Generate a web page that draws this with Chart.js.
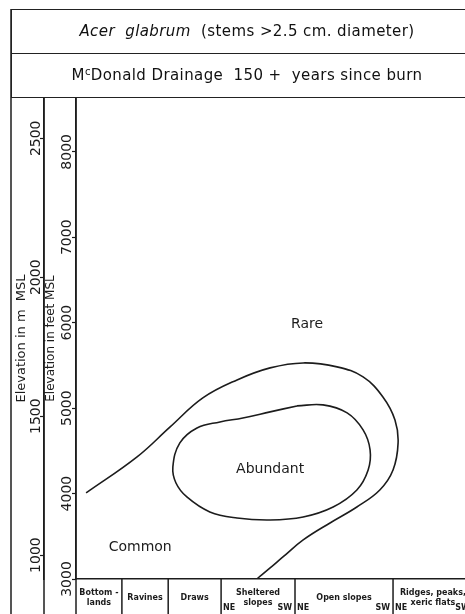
<!DOCTYPE html>
<html>
<head>
<meta charset="utf-8">
<script src="https://cdn.jsdelivr.net/npm/chart.js@4.4.1/dist/chart.umd.min.js"></script>
<style>
  html, body { margin: 0; padding: 0; background: #fff; overflow: hidden; }
  #wrap { position: relative; width: 465px; height: 614px; overflow: hidden; }
  #chart { position: absolute; left: 0; top: 0; }
  .hdr { position: absolute; left: 11px; top: 9px; width: 470px; border-top: 1.5px solid #222;
         border-left: 1.5px solid #222; font-family: "DejaVu Sans", sans-serif; color: #111; font-size: 15px;
         letter-spacing: 0.4px; }
  .row { display: flex; align-items: center; justify-content: center; border-bottom: 1.5px solid #222;
         white-space: pre; }
  .r1 { height: 42.5px; }
  .r2 { height: 43.5px; }
  .sup { font-size: 10px; position: relative; top: -4px; }
</style>
</head>
<body>
<div id="wrap">
  <canvas id="chart" width="465" height="614"></canvas>
  <div class="hdr">
    <div class="row r1"><i>Acer  glabrum</i>  (stems &gt;2.5 cm. diameter)</div>
    <div class="row r2">M<span class="sup">c</span>Donald Drainage  150 +  years since burn</div>
  </div>
</div>
<script>
// habitat gradient along the bottom (x in gradient units 0-100), elevation in feet
const habitatEdges = [0, 11.8, 23.7, 37.3, 56.3, 81.5, 102];
const habitatLabels = [
  ["Bottom -", "lands"],
  ["Ravines"],
  ["Draws"],
  ["Sheltered", "slopes"],
  ["Open slopes"],
  ["Ridges, peaks,", "xeric flats"],
];
const hasAspect = [false, false, false, true, true, true];

const feetTicks = [3000, 4000, 5000, 6000, 7000, 8000];
const meterTicks = [1000, 1500, 2000, 2500];

// Rare / Common boundary (open curve)
const rareX  = [46.5, 49.9, 53.2, 58.4, 65.3, 72.2, 78.1, 81.5, 82.8, 82.0, 78.9, 73.8, 67.1, 58.4, 49.9, 41.4, 32.6, 24.2, 15.7, 2.6];
const rareFt = [3000, 3129, 3258, 3457, 3656, 3843, 4042, 4276, 4593, 4862, 5131, 5365, 5483, 5529, 5471, 5330, 5119, 4780, 4429, 4007];

// Abundant boundary (closed loop, starts and ends on the flat top)
const abundX  = [56.8, 63.5, 69.7, 73.8, 75.6, 75.1, 72.2, 66.1, 58.4, 49.9, 41.4, 34.4, 28.5, 25.7, 24.9, 26.7, 31.1, 37.0, 42.9, 49.9, 56.8];
const abundFt = [5026, 5038, 4944, 4745, 4511, 4276, 4042, 3843, 3726, 3691, 3714, 3785, 3960, 4124, 4312, 4593, 4768, 4838, 4885, 4956, 5026];

const zoneNames = ["Rare", "Abundant", "Common"];
const zoneX  = [59.4, 49.9, 16.5];
const zoneFt = [5986, 4288, 3375];

const FT_MIN = 3000, FT_MAX = 8630;
const M_MIN = 914, M_MAX = 2645;

const INK = "#1c1c1c";
const FONT = "DejaVu Sans";

function pts(xs, ys) {
  return xs.map((x, i) => ({ x, y: ys[i] }));
}

const framePlugin = {
  id: "frame",
  afterDraw(chart) {
    const ctx = chart.ctx;
    const xs = chart.scales.x;
    const ys = chart.scales.y;
    const area = chart.chartArea;
    ctx.save();
    ctx.strokeStyle = INK;
    ctx.lineWidth = 1.5;
    // column rules
    const ym = chart.scales.yM;
    [[ym.left, 9], [ym.right, area.top], [ys.right, area.top]].forEach(([x, top]) => {
      ctx.beginPath();
      ctx.moveTo(x, top);
      ctx.lineTo(x, 614);
      ctx.stroke();
    });
    // habitat boxes
    habitatEdges.slice(1, -1).forEach((e) => {
      const x = xs.getPixelForValue(e);
      ctx.beginPath();
      ctx.moveTo(x, area.bottom);
      ctx.lineTo(x, 614);
      ctx.stroke();
    });
    ctx.fillStyle = INK;
    ctx.font = `bold 8px "${FONT}"`;
    ctx.textBaseline = "middle";
    habitatLabels.forEach((lines, i) => {
      const l = xs.getPixelForValue(habitatEdges[i]);
      const r = xs.getPixelForValue(habitatEdges[i + 1]);
      const cx = (l + r) / 2;
      ctx.textAlign = "center";
      const y0 = lines.length === 1 ? 598 : 593;
      lines.forEach((t, k) => ctx.fillText(t, cx, y0 + k * 9.5));
      if (hasAspect[i]) {
        ctx.textAlign = "left";
        ctx.fillText("NE", l + 2, 607.5);
        ctx.textAlign = "right";
        ctx.fillText("SW", r - 3, 607.5);
      }
    });
    // zone names
    ctx.font = `14px "${FONT}"`;
    ctx.textAlign = "center";
    zoneNames.forEach((n, i) => {
      ctx.fillText(n, xs.getPixelForValue(zoneX[i]), ys.getPixelForValue(zoneFt[i]));
    });
    ctx.restore();
  },
};

function sideAxis(min, max, tickValues, weight, title, titleSize, titlePad, tickPad, width) {
  return {
    type: "linear",
    position: "left",
    weight,
    min,
    max,
    afterBuildTicks(s) { s.ticks = tickValues.map((v) => ({ value: v })); },
    ticks: {
      minRotation: 90,
      maxRotation: 90,
      crossAlign: "center",
      padding: tickPad,
      color: INK,
      font: { family: FONT, size: 14 },
      callback: (v) => String(v),
    },
    grid: { drawOnChartArea: false, tickLength: 4, tickColor: INK, tickWidth: 1.2 },
    border: { color: INK, width: 1.5 },
    title: {
      display: true,
      text: title,
      color: INK,
      font: { family: FONT, size: titleSize },
      padding: { top: titlePad, bottom: 0 },
    },
    afterFit(s) { s.width = width; },
  };
}

new Chart(document.getElementById("chart"), {
  type: "scatter",
  data: {
    datasets: [
      { data: pts(rareX, rareFt), showLine: true, borderColor: INK, borderWidth: 1.6, pointRadius: 0, tension: 0.4, fill: false },
      { data: pts(abundX, abundFt), showLine: true, borderColor: INK, borderWidth: 1.6, pointRadius: 0, tension: 0.4, fill: false },
    ],
  },
  options: {
    responsive: false,
    animation: false,
    layout: { padding: { left: 11, top: 98, right: 0, bottom: 0 } },
    plugins: { legend: { display: false }, tooltip: { enabled: false } },
    scales: {
      x: {
        type: "linear",
        min: 0,
        max: 100,
        ticks: { display: false },
        grid: { display: false },
        border: { color: INK, width: 1.5 },
        afterFit(s) { s.height = 35; },
      },
      y: sideAxis(FT_MIN, FT_MAX, feetTicks, 0, "Elevation in feet MSL", 12, 0, -13, 32),
      yM: sideAxis(M_MIN, M_MAX, meterTicks, 1, "Elevation in m  MSL", 13, 3, -14, 33),
    },
  },
  plugins: [framePlugin],
});
</script>
</body>
</html>
